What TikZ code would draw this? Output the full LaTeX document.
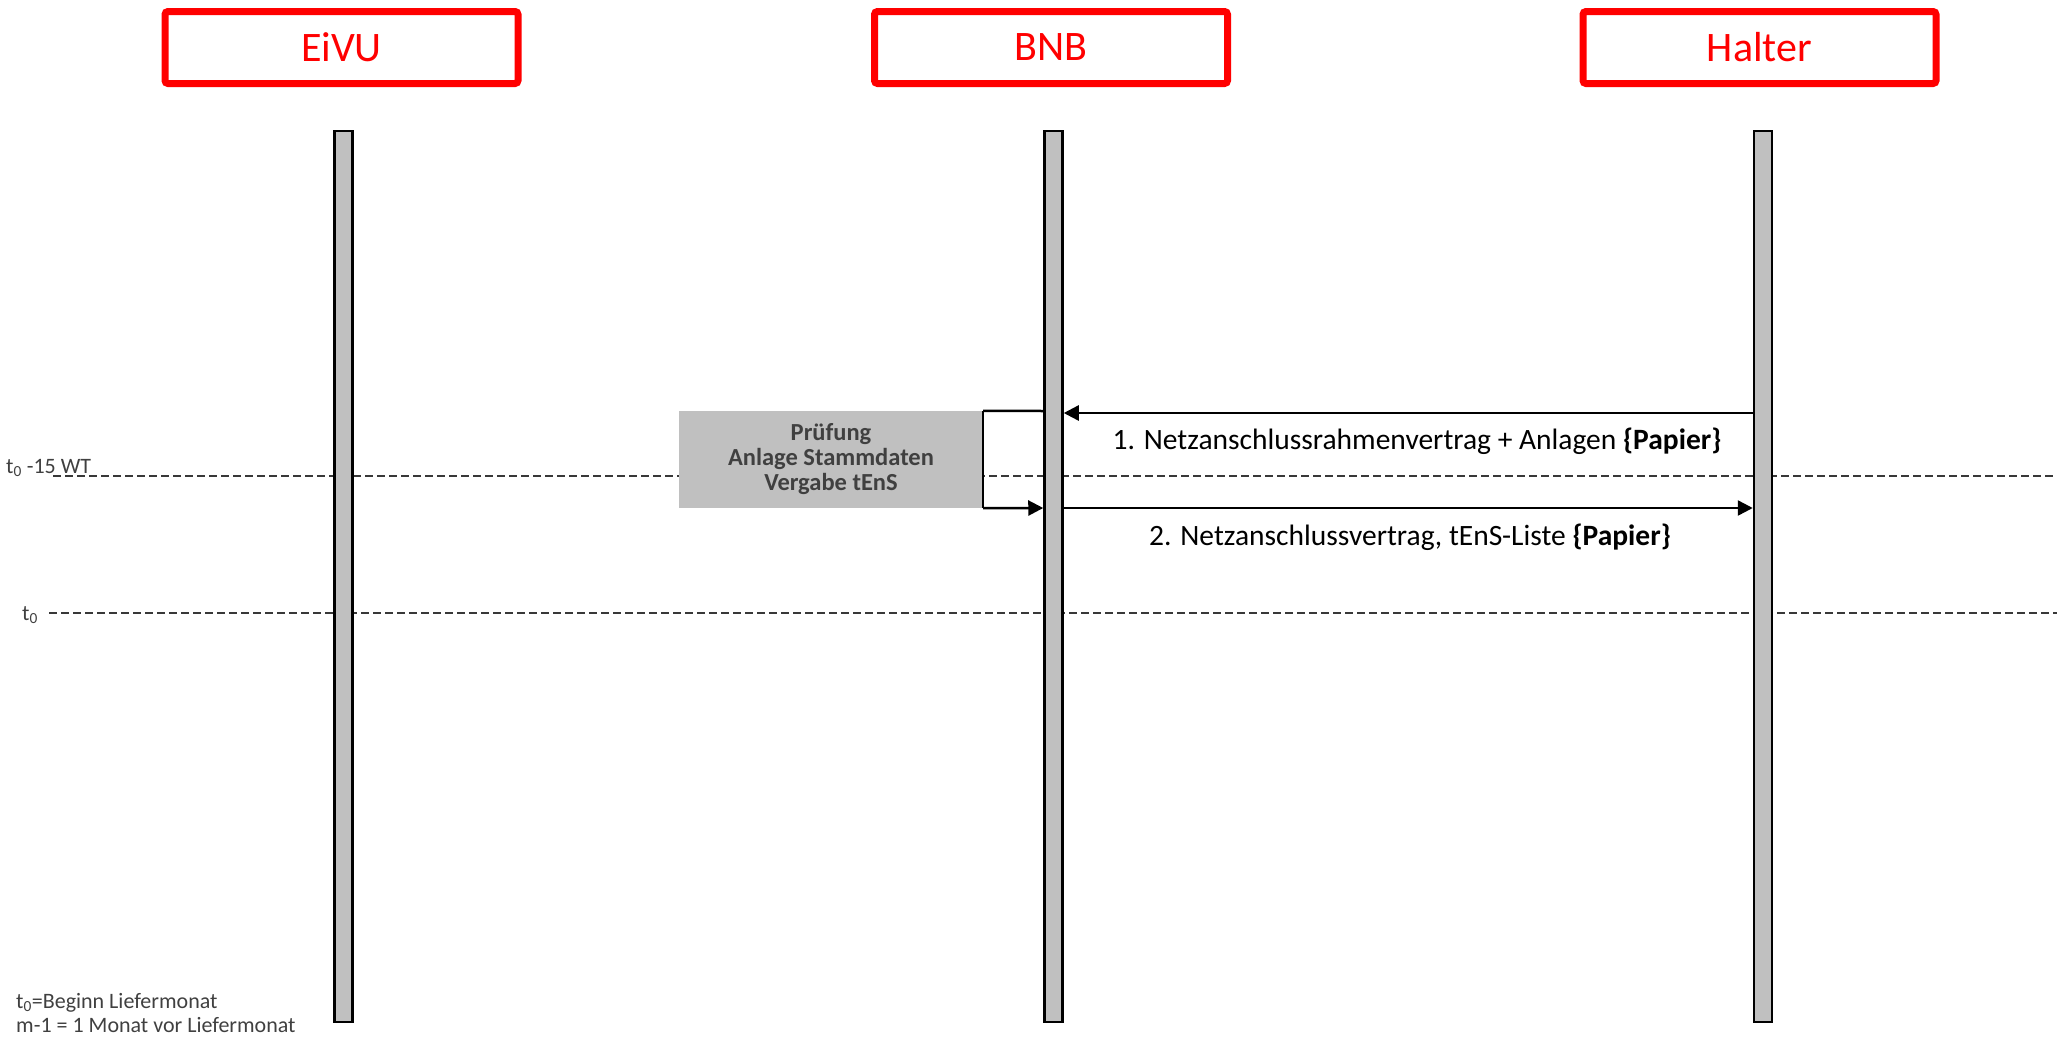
\documentclass[tikz,border=0pt]{standalone}
\usepackage{fontspec}
\setmainfont{Carlito}
\usetikzlibrary{arrows.meta}

\definecolor{actorred}{HTML}{FF0000}
\definecolor{barfill}{HTML}{C0C0C0}
\definecolor{inkgray}{HTML}{404040}
\definecolor{dashgray}{HTML}{383838}

\tikzset{
  actor/.style={draw=actorred, line width=7pt, rounded corners=3pt,
    minimum width=353pt, minimum height=72pt, inner sep=0pt,
    text=actorred, font=\fontsize{42}{48}\selectfont},
  lifeline/.style={draw=black, fill=barfill, line width=2.5pt,
    minimum width=18pt, minimum height=891pt, inner sep=0pt},
  procbox/.style={fill=barfill, minimum width=304pt, minimum height=97pt,
    inner sep=0pt, align=center, text=inkgray,
    font=\fontsize{24.5}{25}\selectfont\bfseries},
  msg/.style={draw=black, line width=2.5pt,
    -{Triangle[length=15pt, width=15pt]}},
  bracketline/.style={draw=black, line width=2.5pt},
  timeline/.style={draw=dashgray, line width=2.4pt, dash pattern=on 8pt off 4pt},
  msglabel/.style={font=\fontsize{29.5}{34}\selectfont, inner sep=0pt},
  note/.style={text=inkgray, font=\fontsize{22}{26}\selectfont, inner sep=0pt}
}

\begin{document}
\begin{tikzpicture}[x=1pt, y=-1pt]
  \useasboundingbox (0,0) rectangle (2057,1037);

  % participants
  \node[actor] (eivu)   at (341.5, 47.5) {EiVU};
  \node[actor] (bnb)    at (1051, 47.5)  {BNB};
  \node[actor] (halter) at (1759.5, 47.5) {Halter};

  % time markers
  \coordinate (tA) at (53, 476);
  \coordinate (tAend) at (2057, 476);
  \coordinate (tB) at (49, 613);
  \coordinate (tBend) at (2057, 613);
  \draw[timeline] (tA) -- (tAend);
  \draw[timeline] (tB) -- (tBend);
  \node[note, anchor=base west] (lblA) at (6, 473) {t\textsubscript{0} -15 WT};
  \node[note, anchor=base west] (lblB) at (22, 620) {t\textsubscript{0}};

  % lifelines
  \node[lifeline] (lEivu)   at (343.5, 576.5) {};
  \node[lifeline] (lBnb)    at (1053.5, 576.5) {};
  \node[lifeline] (lHalter) at (1763, 576.5) {};

  % internal processing at BNB
  \node[procbox] (proc) at (831, 459.5) {Prüfung\\Anlage Stammdaten\\Vergabe tEnS};
  \coordinate (m1) at (0, 413);
  \coordinate (m2) at (0, 508);
  \coordinate (b1) at (0, 411);
  \draw[bracketline] (lBnb.west |- b1) -- (proc.north east);
  \draw[bracketline] (proc.north east) -- (proc.south east);
  \draw[msg] (proc.south east) -- (lBnb.west |- m2);

  % messages
  \draw[msg] (lHalter.west |- m1) -- (lBnb.east |- m1);
  \draw[msg] (lBnb.east |- m2) -- (lHalter.west |- m2);
  \node[msglabel] (lab1) at (1417, 441)
    {1. Netzanschlussrahmenvertrag + Anlagen \textbf{\{Papier\}}};
  \node[msglabel] (lab2) at (1410, 537)
    {2. Netzanschlussvertrag, tEnS-Liste \textbf{\{Papier\}}};

  % legend
  \node[note, anchor=base west] (leg1) at (16, 1008) {t\textsubscript{0}=Beginn Liefermonat};
  \node[note, anchor=base west] (leg2) at (16, 1032) {m-1 = 1 Monat vor Liefermonat};
\end{tikzpicture}
\end{document}
